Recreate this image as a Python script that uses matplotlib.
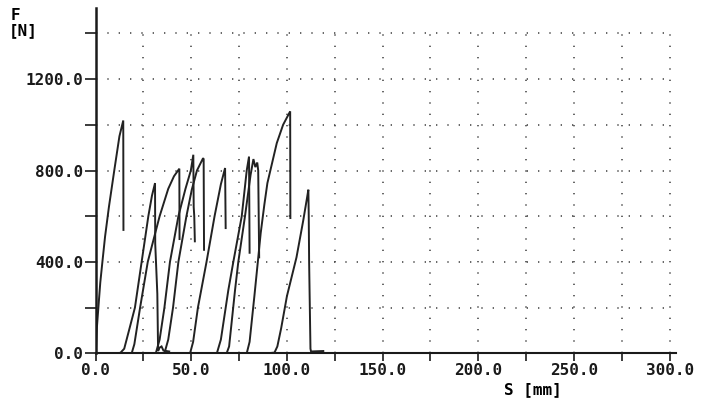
"""
Force / displacement record: F [N] against S [mm], ten load cycles
"""
import matplotlib.pyplot as plt
from matplotlib.ticker import MultipleLocator, FixedLocator

# cycle 1 .. 10 (S in mm, F in N)
s1 = [0.0, 0.3, 0.7, 1.5, 2.5, 3.6, 5.0, 7.0, 9.8, 12.5, 14.5, 14.6]
f1 = [0, 30, 110, 200, 310, 400, 511, 640, 800, 950, 1019, 540]

s2 = [10.0, 13.0, 15.0, 17.5, 20.6, 24.1, 27.6, 29.5, 31.1, 31.2, 32.3, 32.7,
      33.5, 34.5, 35.5, 38.5]
f2 = [0, 2, 20, 100, 200, 400, 600, 690, 745, 480, 260, 10, 25, 30, 12, 8]

s3 = [18.9, 20.3, 23.3, 27.3, 33.5, 38.0, 41.0, 43.8, 43.9]
f3 = [0, 40, 200, 400, 600, 720, 775, 808, 500]

s4 = [31.5, 33.5, 36.0, 38.9, 43.3, 47.0, 49.8, 51.1, 51.3, 51.6, 51.9]
f4 = [0, 60, 200, 400, 600, 720, 800, 869, 640, 600, 490]

s5 = [36.0, 38.0, 40.5, 43.3, 47.5, 50.3, 53.0, 56.2, 56.5, 56.7]
f5 = [0, 60, 200, 400, 600, 716, 800, 854, 850, 453]

s6 = [49.4, 51.0, 53.5, 58.0, 62.2, 65.5, 67.7, 68.0]
f6 = [0, 50, 200, 400, 600, 740, 811, 548]

s7 = [63.4, 65.5, 69.4, 72.0, 76.4, 79.0, 80.2, 80.5]
f7 = [0, 60, 277, 400, 600, 800, 861, 440]

s8 = [68.5, 69.8, 72.9, 74.6, 78.1, 81.0, 82.5, 83.5, 84.5, 85.0, 85.5]
f8 = [0, 30, 277, 400, 600, 780, 850, 815, 835, 800, 420]

s9 = [79.0, 80.5, 83.0, 84.8, 86.3, 88.2, 89.8, 94.7, 98.0, 101.7, 101.8]
f9 = [0, 50, 250, 400, 526, 650, 745, 920, 1000, 1059, 592]

s10 = [89.5, 93.5, 95.0, 97.0, 100.0, 105.0, 108.5, 110.5, 111.2, 111.4,
       111.6, 112.3, 112.6, 119.0]
f10 = [0, 3, 30, 110, 250, 420, 580, 680, 716, 600, 400, 20, 8, 10]

cycles = [(s1, f1), (s2, f2), (s3, f3), (s4, f4), (s5, f5),
          (s6, f6), (s7, f7), (s8, f8), (s9, f9), (s10, f10)]

x_major = [0, 50, 100, 150, 200, 250, 300]
y_major = [0, 400, 800, 1200]

W, H = 705, 401
fig = plt.figure(figsize=(W / 100, H / 100), dpi=100)
ax = fig.add_axes([95.5 / W, 47.7 / H, 580 / W, 345 / H])

for s, f in cycles:
    ax.plot(s, f, color="#222222", linewidth=1.4, solid_joinstyle="miter")

ax.set_xlim(0, 303)
ax.set_ylim(0, 1510)

ax.xaxis.set_major_locator(FixedLocator(x_major))
ax.xaxis.set_minor_locator(MultipleLocator(25))
ax.yaxis.set_major_locator(FixedLocator(y_major))
ax.yaxis.set_minor_locator(FixedLocator([200, 600, 1000, 1400]))
ax.set_xticklabels([f"{v:.1f}" for v in x_major])
ax.set_yticklabels([f"{v:.1f}" for v in y_major])

font = dict(family="DejaVu Sans Mono", weight="bold", size=11.5)
for lab in ax.get_xticklabels() + ax.get_yticklabels():
    lab.set_fontproperties(font)
    lab.set_color("#1a1a1a")

ax.tick_params(which="both", direction="out", length=6, width=1.2,
               color="#1a1a1a", pad=2)
ax.tick_params(axis="x", pad=1)
ax.tick_params(axis="y", which="both", length=8, pad=1)

# dotted grid at every 25 mm and every 200 N
grid_kw = dict(color="#4d4d4d", linewidth=1.2, linestyle=(0, (0.8, 6.0)))
for gx in range(25, 301, 25):
    ax.plot([gx, gx], [0, 1400], **grid_kw, zorder=0)
for gy in range(200, 1401, 200):
    ax.plot([0, 300], [gy, gy], **grid_kw, zorder=0)

for side in ("top", "right"):
    ax.spines[side].set_visible(False)
ax.spines["left"].set_linewidth(1.8)
ax.spines["bottom"].set_linewidth(1.5)
ax.spines["left"].set_color("#1a1a1a")
ax.spines["bottom"].set_color("#1a1a1a")

fig.text(11 / W, 1 - 15 / H, "F", va="center", ha="left", **font)
fig.text(9 / W, 1 - 31 / H, "[N]", va="center", ha="left", **font)
fig.text(533 / W, 1 - 390 / H, "S [mm]", va="center", ha="center", **font)

fig.savefig("out.png", dpi=100, facecolor="white")
plt.close(fig)
